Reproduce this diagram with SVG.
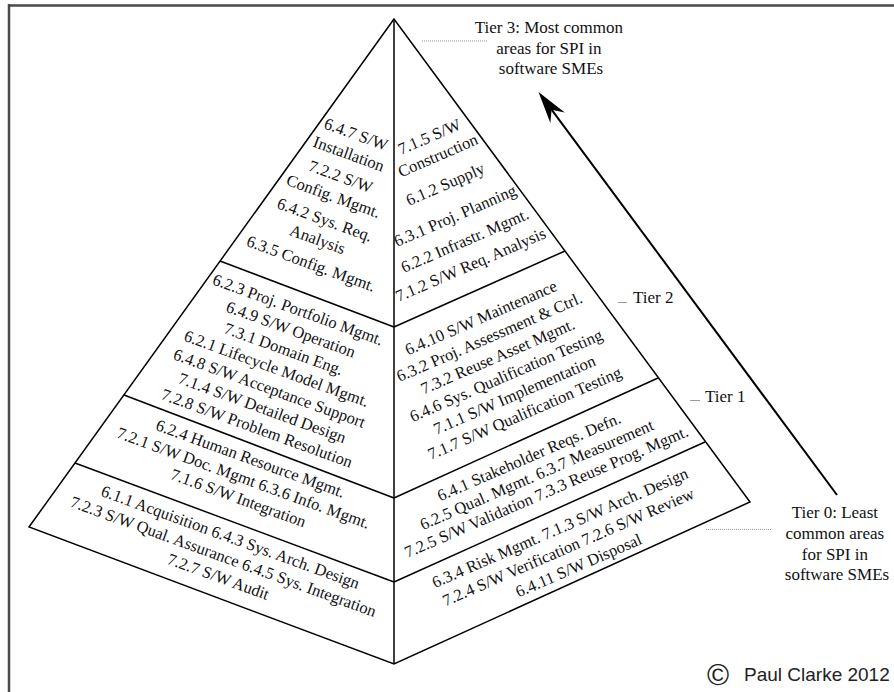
<svg xmlns="http://www.w3.org/2000/svg" width="894" height="692" viewBox="0 0 894 692">
<style>
  .face { fill: #ffffff; stroke: #000000; stroke-width: 1.5; stroke-linejoin: miter; }
  .edge { stroke: #000000; stroke-width: 1.5; fill: none; }
  .frame { stroke: #4a4a4a; stroke-width: 2.5; fill: none; }
  .lead { stroke: #9a9a9a; stroke-width: 1; fill: none; }
  .dot { stroke: #9a9a9a; stroke-width: 1; stroke-dasharray: 1 1; fill: none; }
  .arrow { stroke: #000000; stroke-width: 2; fill: none; }
  .t { font-family: "Liberation Serif", "Times New Roman", serif; font-size: 16.5px; fill: #111111; }
  .c { text-anchor: middle; }
  .lbl { font-family: "Liberation Serif", "Times New Roman", serif; font-size: 17px; fill: #111111; }
  .copy { font-family: "Liberation Sans", Arial, sans-serif; fill: #222222; }
</style>
<defs>
  <marker id="head" viewBox="-12 -10 36 20" refX="0" refY="0" markerWidth="36" markerHeight="20" markerUnits="userSpaceOnUse" orient="auto">
    <path d="M22,0 L-10,-9 L0,0 L-10,9 Z" fill="#000000"/>
  </marker>
</defs>
<rect x="0" y="0" width="894" height="692" fill="#ffffff"/>
<g id="frame">
  <line class="frame" x1="9" y1="5.5" x2="894" y2="5.5"/>
  <line class="frame" x1="9" y1="4" x2="9" y2="692"/>
</g>
<g id="pyramid">
  <polygon class="face" points="394,19 29,527 394,664 750,502"/>
</g>
<g id="connectors">
  <line class="edge" x1="394" y1="19" x2="394" y2="664"/>
  <line class="edge" x1="220" y1="261" x2="394" y2="327"/>
  <line class="edge" x1="124" y1="395" x2="394" y2="498"/>
  <line class="edge" x1="75" y1="463" x2="394" y2="582"/>
  <line class="edge" x1="565" y1="251" x2="394" y2="327"/>
  <line class="edge" x1="658" y1="378" x2="394" y2="498"/>
  <line class="edge" x1="705" y1="442" x2="394" y2="582"/>
  <line class="arrow" x1="837" y1="495" x2="551.6" y2="109.7" marker-end="url(#head)"/>
  <line class="dot" x1="422" y1="41" x2="487" y2="41"/>
  <line class="lead" x1="618" y1="302.5" x2="627" y2="302.5"/>
  <line class="lead" x1="690" y1="400.5" x2="700" y2="400.5"/>
  <line class="dot" x1="706" y1="529.5" x2="772" y2="529.5"/>
</g>
<g id="tier3-left">
  <text class="t c" transform="translate(356 140) rotate(20)">
    <tspan x="0" y="0">6.4.7 S/W</tspan>
    <tspan x="0" y="21">Installation</tspan>
    <tspan x="0" y="45">7.2.2 S/W</tspan>
    <tspan x="0" y="66">Config. Mgmt.</tspan>
    <tspan x="0" y="91">6.4.2 Sys. Req.</tspan>
    <tspan x="0" y="112">Analysis</tspan>
    <tspan x="0" y="137">6.3.5 Config. Mgmt.</tspan>
  </text>
</g>
<g id="tier3-right">
  <text class="t" transform="translate(401 155) rotate(-23.5)">7.1.5 S/W</text>
  <text class="t" transform="translate(401 177.5) rotate(-23.5)">Construction</text>
  <text class="t" transform="translate(409 206) rotate(-23.5)">6.1.2 Supply</text>
  <text class="t" transform="translate(397 247) rotate(-23.5)">6.3.1 Proj. Planning</text>
  <text class="t" transform="translate(404 273) rotate(-23.5)">6.2.2 Infrastr. Mgmt.</text>
  <text class="t" transform="translate(398.5 302) rotate(-23.5)">7.1.2 S/W Req. Analysis</text>
</g>
<g id="tier2-left">
  <text class="t c" transform="translate(298 315.5) rotate(20)">
    <tspan x="0" y="0">6.2.3 Proj. Portfolio Mgmt.</tspan>
    <tspan x="0" y="20.9">6.4.9 S/W Operation</tspan>
    <tspan x="0" y="41.8">7.3.1 Domain Eng.</tspan>
    <tspan x="0" y="62.7">6.2.1 Lifecycle Model Mgmt.</tspan>
    <tspan x="0" y="83.6">6.4.8 S/W Acceptance Support</tspan>
    <tspan x="0" y="104.5">7.1.4 S/W Detailed Design</tspan>
    <tspan x="0" y="125.4">7.2.8 S/W Problem Resolution</tspan>
  </text>
</g>
<g id="tier2-right">
  <text class="t c" transform="translate(485 322) rotate(-23.5)">
    <tspan x="0" y="0">6.4.10 S/W Maintenance</tspan>
    <tspan x="0" y="21">6.3.2 Proj. Assessment &amp; Ctrl.</tspan>
    <tspan x="0" y="42">7.3.2 Reuse Asset Mgmt.</tspan>
    <tspan x="0" y="63">6.4.6 Sys. Qualification Testing</tspan>
    <tspan x="0" y="84">7.1.1 S/W Implementation</tspan>
    <tspan x="0" y="105">7.1.7 S/W Qualification Testing</tspan>
  </text>
</g>
<g id="tier1-left">
  <text class="t c" transform="translate(250.5 464.5) rotate(20)">
    <tspan x="0" y="0">6.2.4 Human Resource Mgmt.</tspan>
    <tspan x="0" y="20.5">7.2.1 S/W Doc. Mgmt 6.3.6 Info. Mgmt.</tspan>
    <tspan x="0" y="41">7.1.6 S/W Integration</tspan>
  </text>
</g>
<g id="tier1-right">
  <text class="t c" transform="translate(533 461) rotate(-23.5)">
    <tspan x="0" y="0">6.4.1 Stakeholder Reqs. Defn.</tspan>
    <tspan x="0" y="19.5">6.2.5 Qual. Mgmt. 6.3.7 Measurement</tspan>
    <tspan x="0" y="39">7.2.5 S/W Validation 7.3.3 Reuse Prog. Mgmt.</tspan>
  </text>
</g>
<g id="tier0-left">
  <text class="t c" transform="translate(230.5 543) rotate(20)">
    <tspan x="0" y="0">6.1.1 Acquisition 6.4.3 Sys. Arch. Design</tspan>
    <tspan x="0" y="20.6">7.2.3 S/W Qual. Assurance 6.4.5 Sys. Integration</tspan>
    <tspan x="0" y="41.2">7.2.7 S/W Audit</tspan>
  </text>
</g>
<g id="tier0-right">
  <text class="t c" transform="translate(564 532) rotate(-23.5)">
    <tspan x="0" y="0">6.3.4 Risk Mgmt. 7.1.3 S/W Arch. Design</tspan>
    <tspan x="0" y="21">7.2.4 S/W Verification 7.2.6 S/W Review</tspan>
    <tspan x="0" y="42">6.4.11 S/W Disposal</tspan>
  </text>
</g>
<g id="label-tier3">
  <text class="lbl c">
    <tspan x="551" y="33">Tier 3: Most common</tspan>
    <tspan x="551" y="54">areas for SPI in</tspan>
    <tspan x="551" y="74">software SMEs</tspan>
  </text>
</g>
<g id="label-tier2">
  <text class="lbl" x="633" y="303">Tier 2</text>
</g>
<g id="label-tier1">
  <text class="lbl" x="705" y="401.5">Tier 1</text>
</g>
<g id="label-tier0">
  <text class="lbl c">
    <tspan x="837" y="518">Tier 0: Least</tspan>
    <tspan x="837" y="539">common areas</tspan>
    <tspan x="837" y="560">for SPI in</tspan>
    <tspan x="837" y="580">software SMEs</tspan>
  </text>
</g>
<g id="copyright">
  <text class="copy"><tspan x="707" y="685" font-size="30">©</tspan><tspan x="744" y="681" font-size="19">Paul Clarke 2012</tspan></text>
</g>
</svg>
